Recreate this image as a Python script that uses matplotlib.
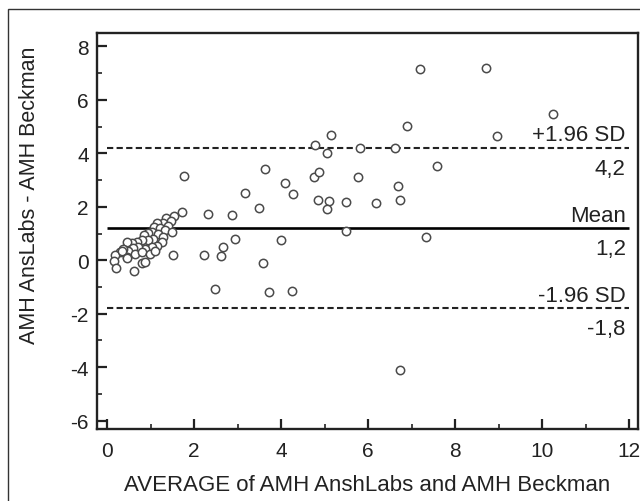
import matplotlib
matplotlib.use("Agg")
import matplotlib.pyplot as plt
from matplotlib.patches import Rectangle
from matplotlib.ticker import MultipleLocator

plt.rcParams['font.family'] = ['Liberation Sans', 'DejaVu Sans']
plt.rcParams['axes.unicode_minus'] = False

# Average of the two methods (x) and difference (y)
avg_x = [1.73, 1.53, 1.36, 1.47, 1.29, 1.41, 1.14, 1.09, 1.22, 1.33, 1.04, 0.94, 0.86, 1.18,
         1.49, 1.29, 1.06, 0.95, 0.80, 0.68, 0.57, 0.45, 1.26, 1.14, 1.03, 0.87, 0.72, 0.60,
         0.49, 0.37, 0.30, 0.18, 0.45, 0.64, 0.80, 0.99, 1.10, 0.15, 0.20, 0.63, 0.80, 0.88,
         1.52, 0.34, 0.47,
         1.78, 3.64, 4.08, 4.27, 4.76, 4.87, 4.85, 3.18, 3.50, 2.31, 2.87, 2.94, 3.99, 2.67,
         2.23, 2.63, 3.58, 2.48, 3.72, 4.25, 6.90, 5.14, 4.77, 5.05, 5.82, 6.61, 7.58, 5.77,
         6.68, 5.11, 5.06, 5.50, 6.19, 6.74, 5.49, 7.33, 7.20, 8.71, 10.25, 8.96, 6.74]
diff_y = [1.80, 1.64, 1.59, 1.46, 1.39, 1.30, 1.39, 1.24, 1.21, 1.14, 1.05, 1.01, 0.93, 0.99,
          1.05, 0.86, 0.80, 0.76, 0.74, 0.67, 0.64, 0.67, 0.67, 0.55, 0.49, 0.43, 0.51, 0.46,
          0.36, 0.43, 0.30, 0.18, 0.11, 0.24, 0.30, 0.24, 0.36, -0.01, -0.30, -0.39, -0.09, -0.06,
          0.21, 0.36, 0.09,
          3.15, 3.43, 2.89, 2.49, 3.11, 3.29, 2.26, 2.51, 1.95, 1.74, 1.70, 0.79, 0.76, 0.51,
          0.21, 0.16, -0.10, -1.09, -1.17, -1.14, 5.01, 4.68, 4.33, 4.03, 4.20, 4.20, 3.51, 3.10,
          2.76, 2.20, 1.90, 2.17, 2.14, 2.26, 1.11, 0.86, 7.15, 7.19, 5.47, 4.65, -4.11]

mean_diff = 1.2
upper_loa = 4.2
lower_loa = -1.8
line_x = [0, 12]

x_ticks = [0, 2, 4, 6, 8, 10, 12]
y_ticks = [-6, -4, -2, 0, 2, 4, 6, 8]

fig = plt.figure(figsize=(6.4, 5.02), dpi=100)
ax = fig.add_axes([97/640, 1-430/502, (638-97)/640, (430-34)/502])

ax.plot(avg_x, diff_y, linestyle='none', marker='o', markersize=6.0,
        markerfacecolor='white', markeredgecolor='#4a4a4a', markeredgewidth=1.1, zorder=3)

ax.plot(line_x, [mean_diff]*2, color='black', lw=1.9, zorder=2, solid_capstyle='butt')
ax.plot(line_x, [upper_loa]*2, color='#222222', lw=1.5, ls=(0, (3, 1.6)), zorder=2)
ax.plot(line_x, [lower_loa]*2, color='#222222', lw=1.5, ls=(0, (3, 1.6)), zorder=2)

ax.set_xlim(-0.23, 12.2)
ax.set_ylim(-6.31, 8.5)
ax.set_xticks(x_ticks)
ax.set_yticks(y_ticks)
ax.xaxis.set_minor_locator(MultipleLocator(1))
ax.yaxis.set_minor_locator(MultipleLocator(1))
ax.tick_params(which='major', direction='in', length=7.2, width=1.6, labelsize=15,
               colors='#222222', pad=6)
ax.tick_params(which='minor', direction='in', length=3.6, width=1.2, colors='#222222')
ax.tick_params(axis='x', which='major', pad=9)
for s in ax.spines.values():
    s.set_linewidth(1.7)
    s.set_color('#222222')

tx = 11.92
fs = 16
tc = '#222222'
for val, lab_above, lab_below in [(upper_loa, '+1.96 SD', '4,2'),
                                  (mean_diff, 'Mean', '1,2'),
                                  (lower_loa, '-1.96 SD', '-1,8')]:
    ax.annotate(lab_above, (tx, val), xytext=(0, 5.5), textcoords='offset points',
                ha='right', va='baseline', fontsize=fs, color=tc)
    ax.annotate(lab_below, (tx, val), xytext=(0, -18.4), textcoords='offset points',
                ha='right', va='baseline', fontsize=fs, color=tc)

fig.text(367/640, 1-491/502, 'AVERAGE of AMH AnshLabs and AMH Beckman',
         ha='center', va='baseline', fontsize=16, color=tc)
fig.text(30/640, 1-195/502, 'AMH AnsLabs - AMH Beckman', rotation=90,
         ha='center', va='center', fontsize=15.5, color=tc)

fig.patches.append(Rectangle((8/640, -0.2), 1.2, 1.2 - 10/502, transform=fig.transFigure,
                             fill=False, lw=1.0, edgecolor='#333333'))

fig.savefig('out.png', dpi=100)
